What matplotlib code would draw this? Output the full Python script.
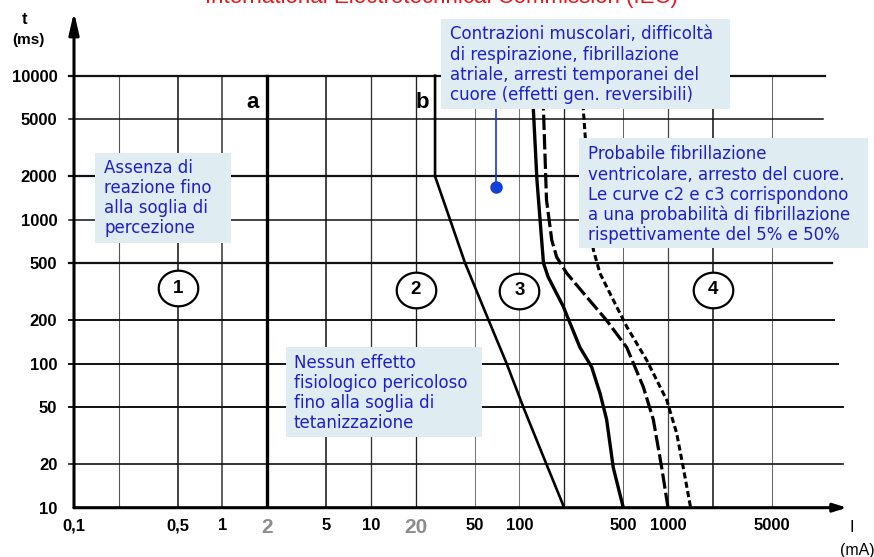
import numpy as np
import matplotlib
matplotlib.use("Agg")
import matplotlib.pyplot as plt
from matplotlib.patches import Rectangle
from matplotlib.path import Path

plt.rcParams['font.family'] = ['Liberation Sans', 'DejaVu Sans']

W, H = 874, 557

# --- curves: current I (mA) vs time t (ms)
a_I = [2, 2]
a_t = [10, 10000]
b_I = [27, 27, 43, 62, 82, 106, 152, 200]
b_t = [10000, 2000, 500, 200, 100, 50, 20, 10]
c1_I = [122, 124, 131, 145, 156, 197, 255, 306, 349, 386, 428, 500]
c1_t = [10000, 5800, 1900, 500, 400, 250, 130, 95, 62, 41, 19, 10]
c2_I = [142, 145, 152, 165, 178, 208, 284, 386, 527, 682, 796, 907, 1000]
c2_t = [10000, 5800, 1370, 720, 550, 425, 290, 200, 130, 69, 41, 19, 10]
c3_I = [265, 269, 276, 314, 348, 428, 527, 718, 980, 1143, 1267, 1420]
c3_t = [10000, 5800, 4000, 620, 425, 277, 181, 106, 56, 33, 19, 10]

# zones
zone_names = ['1', '2', '3', '4']
zone_I = [0.5, 20, 100, 2000]
zone_t = [335, 325, 322, 325]

# marker pointing to the "Contrazioni" note
dot_I = 69
dot_t = 1680

x_ticks = [0.1, 0.5, 1, 2, 5, 10, 20, 50, 100, 500, 1000, 5000]
x_labels = ['0,1', '0,5', '1', '2', '5', '10', '20', '50', '100', '500', '1000', '5000']
y_ticks = [10, 20, 50, 100, 200, 500, 1000, 2000, 5000, 10000]
grid_I = [0.2, 0.5, 1, 5, 10, 20, 50, 100, 200, 500, 1000, 2000, 5000]
grid_t = [10000, 5000, 2000, 1000, 500, 200, 100, 50, 20]

notes = {
    'assenza': ["Assenza di", "reazione fino", "alla soglia di", "percezione"],
    'nessun': ["Nessun effetto", "fisiologico pericoloso", "fino alla soglia di",
               "tetanizzazione"],
    'contraz': ["Contrazioni muscolari, difficoltà", "di respirazione, fibrillazione",
                "atriale, arresti temporanei del", "cuore (effetti gen. reversibili)"],
    'probab': ["Probabile fibrillazione", "ventricolare, arresto del cuore.",
               "Le curve c2 e c3 corrispondono", "a una probabilità di fibrillazione",
               "rispettivamente del 5% e 50%"],
}


def fx(px):
    return px / W


def fy(py):
    return 1 - py / H


fig = plt.figure(figsize=(W / 100, H / 100), dpi=100)
x0, x1 = 74, 847
y0, y1 = 507.7, 12
ax = fig.add_axes([fx(x0), fy(y0), (x1 - x0) / W, (y0 - y1) / H])
ax.set_xscale('log')
ax.set_yscale('log')
ax.set_xlim(0.1, 0.1 * 10 ** ((x1 - x0) / 148.5))
ax.set_ylim(10, 10 * 10 ** ((y0 - y1) / 144))
for s in ax.spines.values():
    s.set_visible(False)

# grid
v_col = ['#555', '#111', '#333', '#111', '#333', '#222', '#777', '#777', '#222',
         '#666', '#444', '#111', '#666']
v_lw = [0.8, 1.1, 1.1, 1.1, 0.95, 0.95, 0.75, 0.75, 0.95, 0.75, 0.9, 1.1, 0.75]
for I, c, lw in zip(grid_I, v_col, v_lw):
    ax.plot([I, I], [10, 10000], color=c, lw=lw, zorder=1)
h_end = [825, 823, 828, 830, 832, 834, 838, 843, 843]
h_lw = [1.6, 1.1, 1.6, 1.1, 1.6, 1.4, 1.4, 1.4, 1.2]
for t, e, lw in zip(grid_t, h_end, h_lw):
    ax.axhline(t, xmin=-5 / (x1 - x0), xmax=(e - x0) / (x1 - x0), color='#111',
               lw=lw, clip_on=False, zorder=1)

# curves
ax.plot(a_I, a_t, color='black', lw=2.4, zorder=3)
ax.plot(b_I, b_t, color='black', lw=1.9, zorder=3)
ax.plot(c1_I, c1_t, color='black', lw=2.4, zorder=3)
ax.plot(c2_I, c2_t, color='black', lw=2.3, dashes=(4.8, 1.3), zorder=3)
ax.plot(c3_I, c3_t, color='black', lw=2.2, dashes=(2.0, 1.1), zorder=3)

# zone circles
th = np.linspace(0, 2 * np.pi, 60)
ell = Path(np.column_stack([np.cos(th), 0.9 * np.sin(th)]))
ax.plot(zone_I, zone_t, ls='none', marker=ell, ms=28.5, mfc='white', mec='black',
        mew=1.6, zorder=4)
for n, I, t in zip(zone_names, zone_I, zone_t):
    ax.text(I, t, n, ha='center', va='center', fontsize=13.5, fontweight='bold', zorder=5)

# blue marker + leader
ax.plot([dot_I, dot_I], [dot_t, 9000], color='#1a3ad0', lw=1.2, zorder=3)
ax.plot(dot_I, dot_t, 'o', color='#1040d8', ms=8, zorder=4)

# axes with arrows
ax.annotate('', xy=(0, 1), xytext=(0, 0), xycoords='axes fraction',
            arrowprops=dict(arrowstyle='-|>,head_length=1.3,head_width=0.3', lw=2.2,
                            color='black', mutation_scale=10, shrinkA=0, shrinkB=0),
            annotation_clip=False)
ax.annotate('', xy=(1, 0), xytext=(0, 0), xycoords='axes fraction',
            arrowprops=dict(arrowstyle='-|>,head_length=0.8,head_width=0.25', lw=2.2,
                            color='black', mutation_scale=10, shrinkA=0, shrinkB=0),
            annotation_clip=False)

# ticks
ax.xaxis.set_minor_locator(matplotlib.ticker.NullLocator())
ax.yaxis.set_minor_locator(matplotlib.ticker.NullLocator())
ax.set_xticks(x_ticks)
ax.set_xticklabels(x_labels)
ax.set_yticks(y_ticks)
ax.set_yticklabels([str(v) for v in y_ticks])
ax.tick_params(axis='x', length=0, pad=7.5, labelsize=12)
ax.tick_params(axis='y', length=0, pad=12, labelsize=12)
for lbl in ax.get_xticklabels() + ax.get_yticklabels():
    lbl.set_fontweight('bold')
for lbl in ax.get_xticklabels():
    if lbl.get_text() in ('2', '20'):
        lbl.set_color('#8c8c8c')
        lbl.set_fontsize(15)

# curve labels
fig.text(fx(252.5), fy(108.3), 'a', ha='center', va='baseline', fontsize=16,
         fontweight='bold')
fig.text(fx(422), fy(108.3), 'b', ha='center', va='baseline', fontsize=16,
         fontweight='bold')

# axis titles
fig.text(fx(25), fy(19), 't', ha='center', va='center', fontsize=12, fontweight='bold')
fig.text(fx(28), fy(40), '(ms)', ha='center', va='center', fontsize=11,
         fontweight='bold')
fig.text(fx(852), fy(527), 'I', ha='center', va='center', fontsize=12)
fig.text(fx(857), fy(550), '(mA)', ha='center', va='center', fontsize=11.5)

# title, cut by the top edge as in the source picture
fig.text(fx(441.6), fy(3), 'International Electrotechnical Commission (IEC)',
         color='#e8161b', fontsize=16, ha='center', va='baseline')

# note boxes
boxes = {
    'assenza': (95, 152.7, 231, 243.3, 104, 173.3, 20.0),
    'nessun': (286, 347.3, 481.7, 436.7, 294, 367.7, 20.2),
    'contraz': (440.7, 19, 730, 109, 449.6, 39.3, 20.3),
    'probab': (579.3, 138.3, 868, 248.3, 588, 159.3, 20.2),
}
for key, (bx0, by0, bx1, by1, tx, ty, step) in boxes.items():
    fig.add_artist(Rectangle((fx(bx0), fy(by1)), (bx1 - bx0) / W, (by1 - by0) / H,
                             transform=fig.transFigure, facecolor='#dfedf2',
                             edgecolor='none', zorder=5))
    for i, line in enumerate(notes[key]):
        fig.text(fx(tx), fy(ty + i * step), line, family='DejaVu Sans', fontsize=12,
                 color='#1f1fc8', ha='left', va='baseline', zorder=6)

fig.savefig('out.png', dpi=100)
